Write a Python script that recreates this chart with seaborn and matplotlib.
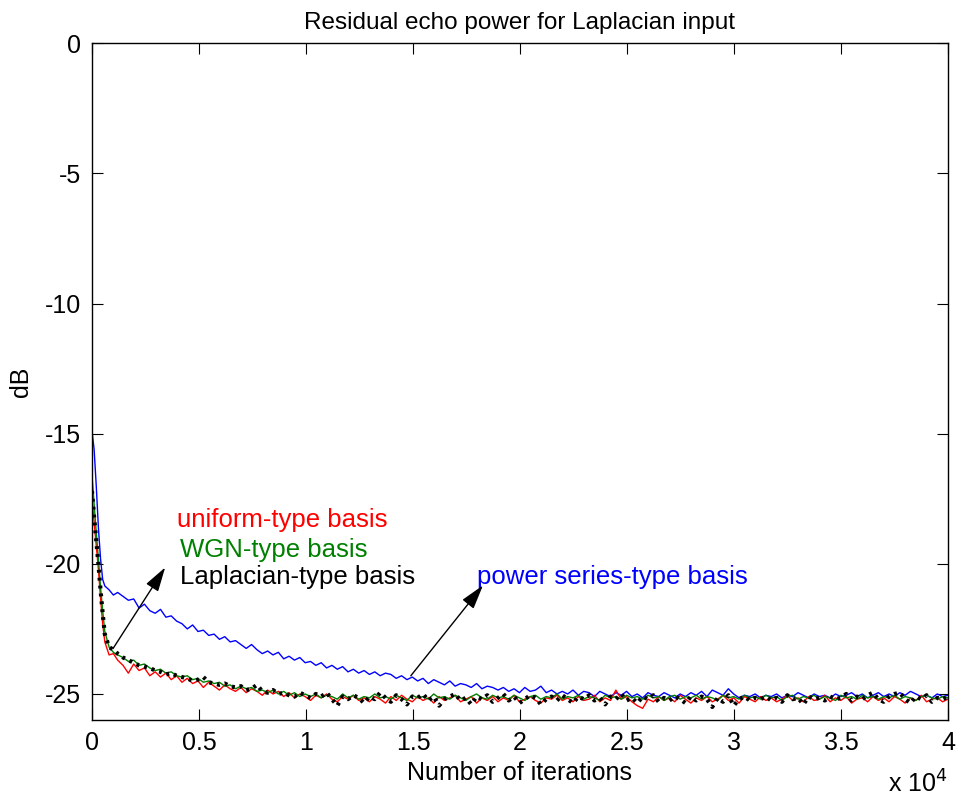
import numpy as np
import pandas as pd
import matplotlib
matplotlib.use("Agg")
import matplotlib.pyplot as plt
import seaborn as sns

# ---------------- data ----------------
# iterations: dense start, then an even grid from 1200 to 40000
DENSE_X = [0, 100, 200, 300, 400, 500, 600, 800, 1000]

power_series = [
    -14.9, -15.6, -17.0, -18.6, -19.8, -20.6, -20.85, -21.0, -21.2,
    -21.1, -21.25, -21.4, -21.35, -21.7, -21.55, -21.8, -21.9, -21.75, -22.05, -22.0, -22.2,
    -22.3, -22.5, -22.35, -22.6, -22.55, -22.75, -22.7, -22.9, -22.8, -23.0, -22.95, -23.1,
    -23.25, -23.1, -23.3, -23.45, -23.35, -23.5, -23.4, -23.65, -23.55, -23.7, -23.6, -23.8,
    -23.75, -23.9, -23.8, -24.0, -23.9, -24.05, -23.95, -24.15, -24.05, -24.2, -24.1, -24.25,
    -24.15, -24.3, -24.2, -24.25, -24.4, -24.3, -24.45, -24.35, -24.5, -24.4, -24.6, -24.45,
    -24.55, -24.65, -24.5, -24.7, -24.6, -24.65, -24.75, -24.6, -24.8, -24.7, -24.75, -24.85,
    -24.75, -24.9, -24.8, -24.95, -24.75, -24.9, -24.85, -24.7, -24.95, -24.85, -25.0, -24.9,
    -25.0, -24.85, -25.05, -24.9, -24.95, -25.1, -24.9, -25.0, -25.1, -24.95, -25.05, -24.9,
    -25.1, -25.0, -25.15, -24.95, -25.05, -25.1, -24.95, -25.05, -25.15, -25.0, -25.1, -24.95,
    -25.05, -24.9, -25.1, -24.85, -24.95, -25.05, -24.8, -25.0, -25.15, -25.05, -25.1, -25.0,
    -25.15, -25.05, -25.1, -25.0, -25.15, -25.05, -25.1, -24.95, -25.05, -25.15, -25.0, -25.1,
    -25.05, -25.15, -25.0, -25.1, -25.05, -24.95, -25.1, -25.0, -25.15, -25.05, -24.95, -25.1,
    -25.0, -25.1, -24.95, -25.05, -24.9, -25.0, -25.1, -25.05, -25.15, -25.0, -25.1, -25.05,
]

uniform = [
    -17.5, -18.4, -19.3, -20.2, -21.3, -22.3, -23.0, -23.5, -23.45,
    -23.7, -23.9, -24.2, -23.85, -24.1, -24.0, -24.3, -24.15, -24.35, -24.2, -24.45, -24.3,
    -24.55, -24.4, -24.6, -24.5, -24.75, -24.55, -24.7, -24.85, -24.65, -24.8, -24.9, -24.75,
    -24.95, -24.8, -24.9, -25.05, -24.85, -25.0, -24.9, -25.1, -24.95, -25.15, -25.0, -25.1,
    -25.25, -25.05, -25.15, -25.0, -25.2, -25.3, -25.1, -25.2, -25.05, -25.25, -25.15, -25.3,
    -25.1, -25.2, -25.35, -25.1, -25.25, -25.05, -25.2, -25.3, -25.1, -25.25, -25.15, -25.35,
    -25.1, -25.25, -25.15, -25.05, -25.3, -25.2, -25.1, -25.35, -25.15, -25.25, -25.1, -25.3,
    -25.15, -25.25, -25.05, -25.3, -25.2, -25.1, -25.25, -25.35, -25.15, -25.2, -25.05, -25.25,
    -25.15, -25.3, -25.1, -25.25, -25.2, -25.05, -25.3, -25.15, -25.25, -24.85, -25.2, -25.1,
    -25.3, -25.45, -25.55, -25.2, -25.3, -25.1, -25.25, -25.15, -25.3, -25.05, -25.2, -25.35,
    -25.15, -25.25, -25.1, -25.3, -25.2, -25.05, -25.25, -25.15, -25.35, -25.1, -25.2, -25.3,
    -25.1, -25.25, -25.15, -25.3, -25.2, -25.05, -25.25, -25.15, -25.3, -25.1, -25.25, -25.2,
    -25.05, -25.3, -25.15, -25.25, -25.1, -25.35, -25.2, -25.15, -25.3, -25.1, -25.25, -25.15,
    -25.3, -25.1, -25.2, -25.35, -25.15, -25.25, -25.05, -25.3, -25.2, -25.15, -25.3, -25.2,
]

wgn = [
    -16.6, -17.7, -18.8, -19.8, -20.9, -21.8, -22.6, -23.2, -23.4,
    -23.5, -23.6, -23.75, -23.7, -23.9, -23.85, -24.0, -24.1, -24.05, -24.2, -24.15, -24.3,
    -24.35, -24.3, -24.45, -24.4, -24.55, -24.5, -24.6, -24.55, -24.7, -24.65, -24.8, -24.7,
    -24.8, -24.75, -24.9, -24.85, -24.95, -24.85, -25.0, -24.9, -25.05, -24.95, -25.1, -25.0,
    -25.1, -25.0, -25.15, -25.05, -25.1, -25.2, -25.0, -25.15, -25.05, -25.2, -25.1, -25.15,
    -25.0, -25.15, -25.1, -25.2, -25.05, -25.15, -25.25, -25.05, -25.15, -25.1, -25.2, -25.0,
    -25.15, -25.1, -25.2, -25.05, -25.15, -25.25, -25.1, -25.0, -25.15, -25.2, -25.05, -25.15,
    -25.1, -25.2, -25.05, -25.15, -25.25, -25.1, -25.05, -25.2, -25.1, -25.15, -25.0, -25.2,
    -25.1, -25.15, -25.05, -25.2, -25.1, -25.15, -25.25, -25.05, -25.15, -25.1, -25.2, -25.05,
    -25.15, -25.1, -25.2, -25.05, -25.15, -25.1, -25.25, -25.1, -25.05, -25.2, -25.1, -25.15,
    -25.05, -25.2, -25.1, -25.15, -25.25, -25.05, -25.15, -25.1, -25.2, -25.05, -25.15, -25.1,
    -25.2, -25.05, -25.15, -25.1, -25.25, -25.1, -25.05, -25.2, -25.1, -25.15, -25.05, -25.2,
    -25.1, -25.15, -25.25, -25.05, -25.15, -25.1, -25.2, -25.05, -25.15, -25.1, -25.2, -25.1,
    -25.15, -25.05, -25.2, -25.1, -25.15, -25.25, -25.1, -25.05, -25.15, -25.2, -25.1, -25.15,
]

laplacian = [
    -17.2, -18.2, -19.1, -20.0, -21.0, -21.9, -22.7, -23.2, -23.3,
    -23.45, -23.6, -23.7, -23.8, -23.9, -23.95, -24.0, -24.1, -24.15, -24.25, -24.2, -24.3,
    -24.35, -24.4, -24.5, -24.45, -24.35, -24.55, -24.6, -24.65, -24.6, -24.7, -24.75, -24.7,
    -24.85, -24.8, -24.65, -24.9, -24.95, -24.85, -25.0, -24.95, -25.05, -25.1, -24.95, -25.05,
    -25.15, -25.0, -25.1, -24.95, -25.2, -25.45, -25.1, -25.2, -25.05, -25.15, -25.35, -25.1,
    -25.2, -24.95, -25.15, -25.3, -25.05, -25.2, -25.4, -25.1, -25.15, -25.0, -25.25, -25.1,
    -25.45, -25.2, -25.1, -25.0, -25.25, -25.15, -25.4, -25.1, -25.2, -25.05, -25.3, -25.15,
    -25.0, -25.25, -25.1, -25.35, -25.2, -25.05, -25.15, -25.4, -25.2, -25.1, -25.25, -25.05,
    -25.2, -25.35, -25.1, -25.2, -25.05, -25.25, -25.15, -25.4, -25.1, -25.2, -25.0, -25.25,
    -25.15, -25.35, -25.1, -25.2, -25.05, -25.3, -25.15, -25.25, -25.1, -25.2, -25.35, -25.1,
    -25.25, -25.1, -25.2, -25.5, -25.15, -25.3, -25.05, -25.45, -25.2, -25.1, -25.25, -25.15,
    -25.2, -25.1, -25.25, -25.15, -25.3, -25.05, -25.2, -25.15, -25.4, -25.1, -25.2, -25.15,
    -25.25, -25.1, -25.2, -25.15, -25.0, -25.25, -25.1, -25.2, -25.05, -24.95, -25.2, -25.3,
    -25.1, -25.0, -24.95, -25.2, -25.35, -25.1, -25.2, -25.05, -25.3, -25.15, -25.2, -25.1,
]

series_names = ["power series-type basis", "uniform-type basis",
                "WGN-type basis", "Laplacian-type basis"]
series_values = [power_series, uniform, wgn, laplacian]
series_colors = ["#0000ff", "#ff0000", "#008000", "#000000"]

x_ticks = [0, 5000, 10000, 15000, 20000, 25000, 30000, 35000, 40000]
x_tick_labels = ["0", "0.5", "1", "1.5", "2", "2.5", "3", "3.5", "4"]
y_ticks = [0, -5, -10, -15, -20, -25]
y_tick_labels = ["0", "-5", "-10", "-15", "-20", "-25"]


def iterations_for(vals):
    tail = np.linspace(1200, 40000, len(vals) - len(DENSE_X))
    return np.concatenate([DENSE_X, tail])


frames = []
for name, vals in zip(series_names, series_values):
    frames.append(pd.DataFrame({"iter": iterations_for(vals), "dB": vals,
                                "basis": name}))
df = pd.concat(frames, ignore_index=True)

# ---------------- figure ----------------
sns.set_style("ticks")
plt.rcParams["font.family"] = ["Liberation Sans", "DejaVu Sans"]
plt.rcParams["text.color"] = "black"
plt.rcParams["axes.labelcolor"] = "black"
plt.rcParams["xtick.color"] = "black"
plt.rcParams["ytick.color"] = "black"
plt.rcParams["axes.edgecolor"] = "black"

fig = plt.figure(figsize=(9.6, 8.0), dpi=100)
ax = fig.add_axes([0.0958, 0.1, 0.8917, 0.846])

for name, color in zip(series_names, series_colors):
    sub = df[df["basis"] == name]
    if name == "Laplacian-type basis":
        sns.lineplot(data=sub, x="iter", y="dB", color=color, ax=ax,
                     linewidth=3.0, estimator=None, sort=False)
        ln = ax.lines[-1]
        ln.set_linestyle((0, (0.7, 1.2)))
        ln.set_dash_capstyle("butt")
    else:
        sns.lineplot(data=sub, x="iter", y="dB", color=color, ax=ax,
                     linewidth=1.0, estimator=None, sort=False)

ax.set_xlim(0, 40000)
ax.set_ylim(-26, 0)
ax.set_xticks(x_ticks)
ax.set_xticklabels(x_tick_labels)
ax.set_yticks(y_ticks)
ax.set_yticklabels(y_tick_labels)
ax.tick_params(direction="in", length=8, width=0.8, labelsize=18,
               top=True, right=True, pad=8, colors="black")
for sp in ax.spines.values():
    sp.set_visible(True)
    sp.set_linewidth(1.0)
    sp.set_color("black")

ax.set_xlabel("Number of iterations", fontsize=18, labelpad=4, color="black")
ax.set_ylabel("dB", fontsize=18, labelpad=8, color="black")
ax.set_title("Residual echo power for Laplacian input", fontsize=17.5, pad=10,
             color="black")
ax.text(1.0, -0.095, r"x 10$^4$", transform=ax.transAxes, ha="right",
        va="center", fontsize=18, color="black")

# annotations
ax.text(3970, -18.33, "uniform-type basis", color="#ff0000", fontsize=18.5,
        va="center", ha="left")
ax.text(4100, -19.48, "WGN-type basis", color="#008000", fontsize=18.5,
        va="center", ha="left")
ax.text(4100, -20.49, "Laplacian-type basis", color="black", fontsize=18.5,
        va="center", ha="left")
ax.text(18000, -20.49, "power series-type basis", color="#0000ff",
        fontsize=18.5, va="center", ha="left")

arrow_kw = dict(arrowstyle="-|>,head_length=0.75,head_width=0.22",
                color="black", lw=1.0, mutation_scale=20,
                shrinkA=0, shrinkB=0)
ax.annotate("", xy=(3420, -20.14), xytext=(980, -23.26), arrowprops=arrow_kw)
ax.annotate("", xy=(18270, -20.83), xytext=(14900, -24.3), arrowprops=arrow_kw)

fig.savefig("out.png", dpi=100)
